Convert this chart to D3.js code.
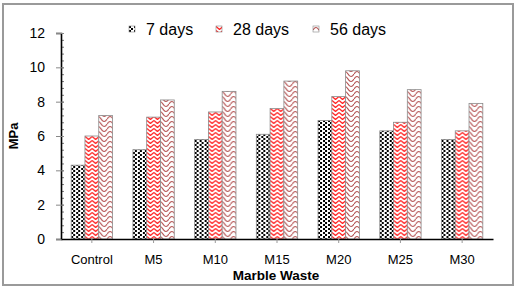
<!DOCTYPE html>
<html>
<head>
<meta charset="utf-8">
<script src="https://cdn.jsdelivr.net/npm/d3@7"></script>
<style>
  body { margin: 0; background: #fff; }
  text { font-family: "Liberation Sans", Arial, sans-serif; }
</style>
</head>
<body>
<div id="chart"></div>
<script>
let categories = ["Control", "M5", "M10", "M15", "M20", "M25", "M30"];
let seriesNames = ["7 days", "28 days", "56 days"];
let days7 = [4.3, 5.2, 5.8, 6.1, 6.9, 6.3, 5.8];
let days28 = [6.0, 7.1, 7.4, 7.6, 8.3, 6.8, 6.3];
let days56 = [7.2, 8.1, 8.6, 9.2, 9.8, 8.7, 7.9];
let yTicks = [0, 2, 4, 6, 8, 10, 12];

let width = 517, height = 288;
let margin = {top: 33, right: 24, bottom: 49, left: 61};
let font = "'Liberation Sans', Arial, sans-serif";

let svg = d3.select("#chart")
.append("svg")
.attr("width", width)
.attr("height", height);

// fill patterns
let defs = svg.append("defs");

let p7 = defs.append("pattern")
.attr("id", "p7")
.attr("patternUnits", "userSpaceOnUse")
.attr("width", 5).attr("height", 4);
p7.append("rect").attr("width", 5).attr("height", 4).attr("fill", "#fff");
p7.append("rect").attr("x", 0).attr("y", 0).attr("width", 2).attr("height", 2).attr("fill", "#000");
p7.append("rect").attr("x", 2).attr("y", 2).attr("width", 2).attr("height", 2).attr("fill", "#000");

let p28 = defs.append("pattern")
.attr("id", "p28")
.attr("patternUnits", "userSpaceOnUse")
.attr("width", 7).attr("height", 4);
p28.append("rect").attr("width", 7).attr("height", 4).attr("fill", "#fff");
p28.append("path")
.attr("d", "M0,0.5 L3.5,3.5 L7,0.5")
.attr("fill", "none")
.attr("stroke", "#ff2020")
.attr("stroke-width", 1.3);

let p56 = defs.append("pattern")
.attr("id", "p56")
.attr("patternUnits", "userSpaceOnUse")
.attr("width", 12).attr("height", 10);
p56.append("rect").attr("width", 12).attr("height", 10).attr("fill", "#fff");
p56.append("path")
.attr("d", "M0,4 Q3,-1 6,4 Q9,9 12,4 M0,9 Q3,4 6,9 M6,9 Q9,14 12,9 M6,-1 Q9,4 12,-1")
.attr("fill", "none")
.attr("stroke", "#b04848")
.attr("stroke-width", 1.2);

let fills = ["url(#p7)", "url(#p28)", "url(#p56)"];

// outer frame
svg.append("rect")
.attr("x", 3).attr("y", 4)
.attr("width", 510).attr("height", 281)
.attr("fill", "none")
.attr("stroke", "#9a9a9a")
.attr("stroke-width", 2);

let x = d3.scaleBand()
.domain(categories)
.range([margin.left, width - margin.right])
.paddingInner(0.33)
.paddingOuter(0.165);

let xs = d3.scaleBand()
.domain(seriesNames)
.range([0, x.bandwidth()]);

let y = d3.scaleLinear()
.domain([0, 12])
.range([height - margin.bottom, margin.top]);

let rows = categories.map(function(c, i) {
  return {cat: c, values: [days7[i], days28[i], days56[i]]};
});

let groups = svg.append("g")
.selectAll("g")
.data(rows)
.enter().append("g")
.attr("transform", d => "translate(" + x(d.cat) + ",0)");

groups.selectAll("rect")
.data(d => d.values.map((v, j) => ({name: seriesNames[j], v: v, j: j})))
.enter().append("rect")
.attr("x", d => xs(d.name))
.attr("y", d => y(d.v))
.attr("width", xs.bandwidth())
.attr("height", d => y(0) - y(d.v))
.attr("fill", d => fills[d.j])
.attr("stroke", "#8a8a8a")
.attr("stroke-width", 0.8);

// y minor ticks
let yMinor = svg.append("g")
.attr("transform", "translate(" + margin.left + ",0)")
.call(d3.axisRight(y).tickValues(d3.range(0, 12.01, 0.4)).tickSize(3).tickFormat(""));
yMinor.select(".domain").remove();
yMinor.selectAll("line").attr("stroke", "#777");

// y axis
let yAxis = svg.append("g")
.attr("transform", "translate(" + margin.left + ",0)")
.call(d3.axisLeft(y).tickValues(yTicks).tickSize(5).tickPadding(11).tickFormat(d3.format("d")));
yAxis.select(".domain").attr("stroke", "#000").attr("stroke-width", 1.6);
yAxis.selectAll("line").attr("stroke", "#888").attr("x2", -5).attr("x1", 3);
yAxis.selectAll("text").attr("font-size", 14).attr("fill", "#000").attr("font-family", font);

// x axis
let xAxis = svg.append("g")
.attr("transform", "translate(0," + y(0) + ")")
.call(d3.axisBottom(x).tickSize(4).tickPadding(12).tickSizeOuter(0));
xAxis.select(".domain").attr("stroke", "#000").attr("stroke-width", 1.6);
xAxis.selectAll("line").attr("stroke", "#999");
xAxis.selectAll("text").attr("font-size", 13).attr("fill", "#000").attr("font-family", font);

// axis titles
svg.append("text")
.attr("x", 276)
.attr("y", 280)
.attr("text-anchor", "middle")
.attr("font-size", 13.5)
.attr("font-weight", "bold")
.attr("font-family", font)
.text("Marble Waste");

svg.append("text")
.attr("transform", "translate(18," + ((y(0) + y(12)) / 2) + ") rotate(-90)")
.attr("text-anchor", "middle")
.attr("font-size", 13)
.attr("font-weight", "bold")
.attr("font-family", font)
.text("MPa");

// legend
let legendX = [129, 216, 313];
let legend = svg.append("g")
.selectAll("g")
.data(seriesNames)
.enter().append("g")
.attr("transform", (d, i) => "translate(" + legendX[i] + ",26)");

legend.append("rect")
.attr("width", 6).attr("height", 6)
.attr("fill", (d, i) => fills[i])
.attr("stroke", "#888")
.attr("stroke-width", 0.6);

legend.append("text")
.attr("x", 17)
.attr("y", 9)
.attr("font-size", 16)
.attr("font-family", font)
.text(d => d);
</script>
</body>
</html>
